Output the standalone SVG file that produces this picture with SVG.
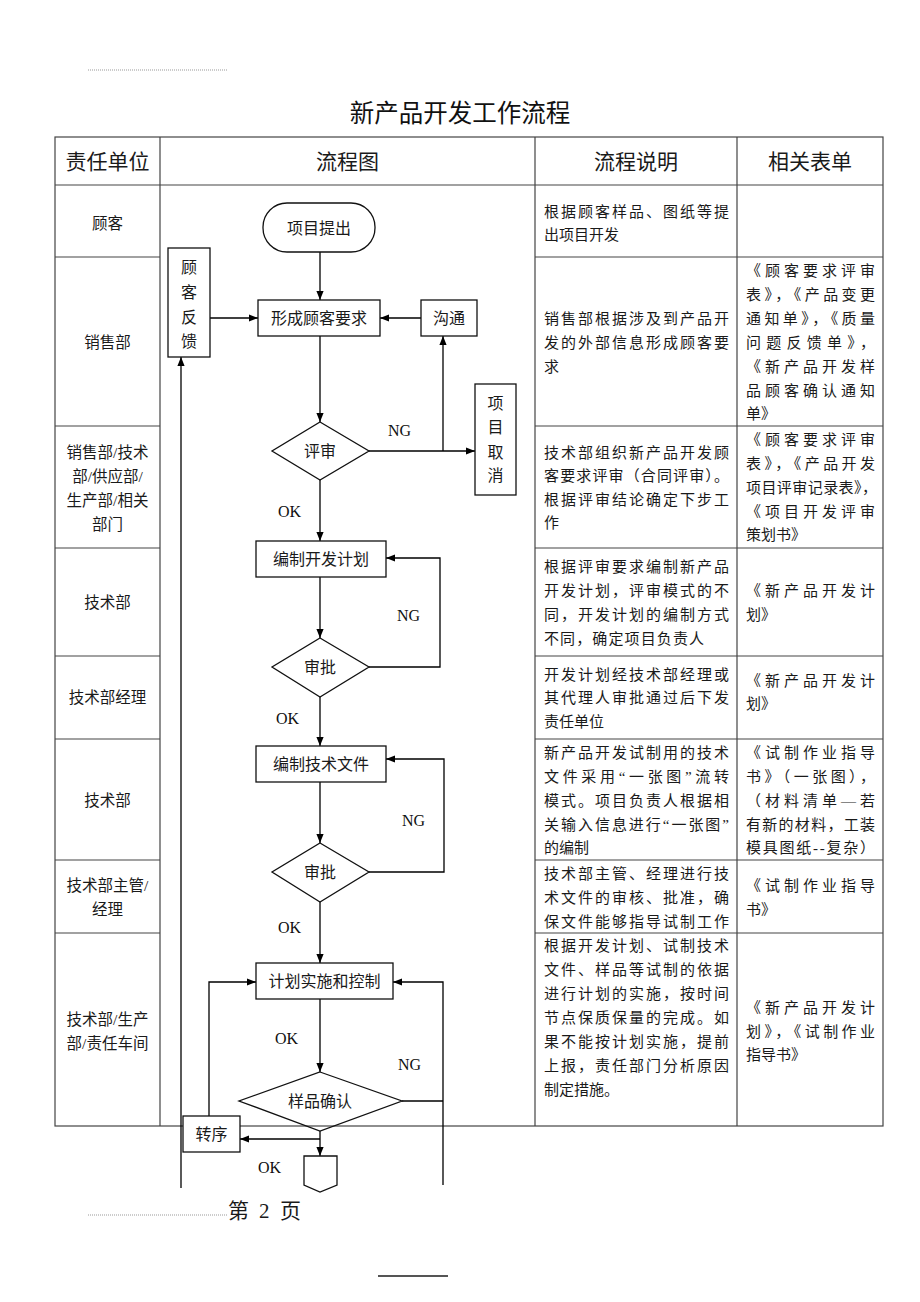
<svg xmlns="http://www.w3.org/2000/svg" width="920" height="1302" viewBox="0 0 920 1302">
<style>
.cj{font-family:"Liberation Serif","Noto Sans CJK SC",serif;fill:#1a1a1a}
.t15{font-size:15px}
.t155{font-size:15.5px;text-anchor:middle}
.t16{font-size:16px;text-anchor:middle}
.hd{font-size:21px;text-anchor:middle}
.title{font-family:"Noto Sans CJK SC",sans-serif;font-size:24.5px;text-anchor:middle;fill:#111}
.lat{font-family:"Liberation Serif",serif;font-size:16px;fill:#111}
.grid{stroke:#444;stroke-width:1.2;fill:none}
.box{fill:#fff;stroke:#111;stroke-width:1.3}
.dia{fill:none;stroke:#111;stroke-width:1.3}
.ln{fill:none;stroke:#000;stroke-width:1.3}
.arr{fill:none;stroke:#000;stroke-width:1.3;marker-end:url(#ah)}
</style>
<defs>
<marker id="ah" viewBox="0 0 10 10" refX="10" refY="5" markerWidth="10" markerHeight="9" markerUnits="userSpaceOnUse" orient="auto">
<path d="M0,1 L10,5 L0,9 z" fill="#000"/>
</marker>
</defs>
<rect width="920" height="1302" fill="#fff"/>

<!-- page decorations -->
<g id="page">
<line x1="88" y1="70" x2="227" y2="70" stroke="#999" stroke-width="1" stroke-dasharray="1,1"/>
<line x1="88" y1="1215" x2="227" y2="1215" stroke="#999" stroke-width="1" stroke-dasharray="1,1"/>
<line x1="378" y1="1276" x2="448" y2="1276" stroke="#555" stroke-width="2"/>
<text class="cj" font-size="21" x="228" y="1218">第<tspan x="259">2</tspan><tspan x="280">页</tspan></text>
<text class="title" x="460" y="122">新产品开发工作流程</text>
</g>

<!-- table grid -->
<g id="table">
<rect class="grid" x="55" y="137" width="828" height="989"/>
<line class="grid" x1="160" y1="137" x2="160" y2="1126"/>
<line class="grid" x1="535" y1="137" x2="535" y2="1126"/>
<line class="grid" x1="737" y1="137" x2="737" y2="1126"/>
<line class="grid" x1="55" y1="185" x2="883" y2="185"/>
<path class="grid" d="M55,257H160M55,426H160M55,548H160M55,656H160M55,739H160M55,860H160M55,933H160"/>
<path class="grid" d="M535,257H883M535,426H883M535,548H883M535,656H883M535,739H883M535,860H883M535,933H883"/>
<text class="cj hd" x="107.5" y="168.5">责任单位</text>
<text class="cj hd" x="347.5" y="168.5">流程图</text>
<text class="cj hd" x="636" y="168.5">流程说明</text>
<text class="cj hd" x="810" y="168.5">相关表单</text>
</g>

<!-- column 1: responsible units -->
<g id="units" class="cj t155">
<text x="107.5" y="229">顾客</text>
<text x="107.5" y="348">销售部</text>
<text x="107.5" y="458">销售部/技术</text>
<text x="107.5" y="482">部/供应部/</text>
<text x="107.5" y="506">生产部/相关</text>
<text x="107.5" y="530">部门</text>
<text x="107.5" y="608">技术部</text>
<text x="107.5" y="703">技术部经理</text>
<text x="107.5" y="806">技术部</text>
<text x="107.5" y="891">技术部主管/</text>
<text x="107.5" y="915">经理</text>
<text x="107.5" y="1025">技术部/生产</text>
<text x="107.5" y="1049">部/责任车间</text>
</g>

<!-- column 3: description -->
<g id="desc" class="cj t15">
<text x="544" y="216.5" textLength="185" lengthAdjust="spacing">根据顾客样品、图纸等提</text>
<text x="544" y="239.5">出项目开发</text>

<text x="544" y="323.5" textLength="185" lengthAdjust="spacing">销售部根据涉及到产品开</text>
<text x="544" y="347.5" textLength="185" lengthAdjust="spacing">发的外部信息形成顾客要</text>
<text x="544" y="371.5">求</text>

<text x="544" y="457.5" textLength="185" lengthAdjust="spacing">技术部组织新产品开发顾</text>
<text x="544" y="480.5" textLength="185" lengthAdjust="spacing">客要求评审（合同评审）。</text>
<text x="544" y="504.5" textLength="185" lengthAdjust="spacing">根据评审结论确定下步工</text>
<text x="544" y="527.5">作</text>

<text x="544" y="571.5" textLength="185" lengthAdjust="spacing">根据评审要求编制新产品</text>
<text x="544" y="595.5" textLength="185" lengthAdjust="spacing">开发计划，评审模式的不</text>
<text x="544" y="619.5" textLength="185" lengthAdjust="spacing">同，开发计划的编制方式</text>
<text x="544" y="643.5" textLength="160" lengthAdjust="spacing">不同，确定项目负责人</text>

<text x="544" y="680" textLength="185" lengthAdjust="spacing">开发计划经技术部经理或</text>
<text x="544" y="703" textLength="185" lengthAdjust="spacing">其代理人审批通过后下发</text>
<text x="544" y="726.5">责任单位</text>

<text x="544" y="757.5" textLength="185" lengthAdjust="spacing">新产品开发试制用的技术</text>
<text x="544" y="781.5" textLength="185" lengthAdjust="spacing">文件采用“一张图”流转</text>
<text x="544" y="805.5" textLength="185" lengthAdjust="spacing">模式。项目负责人根据相</text>
<text x="544" y="829.5" textLength="185" lengthAdjust="spacing">关输入信息进行“一张图”</text>
<text x="544" y="852.5">的编制</text>

<text x="544" y="878.5" textLength="185" lengthAdjust="spacing">技术部主管、经理进行技</text>
<text x="544" y="902.5" textLength="185" lengthAdjust="spacing">术文件的审核、批准，确</text>
<text x="544" y="926.5" textLength="185" lengthAdjust="spacing">保文件能够指导试制工作</text>

<text x="544" y="950.5" textLength="185" lengthAdjust="spacing">根据开发计划、试制技术</text>
<text x="544" y="974.5" textLength="185" lengthAdjust="spacing">文件、样品等试制的依据</text>
<text x="544" y="998.5" textLength="185" lengthAdjust="spacing">进行计划的实施，按时间</text>
<text x="544" y="1022.5" textLength="185" lengthAdjust="spacing">节点保质保量的完成。如</text>
<text x="544" y="1046.5" textLength="185" lengthAdjust="spacing">果不能按计划实施，提前</text>
<text x="544" y="1070.5" textLength="185" lengthAdjust="spacing">上报，责任部门分析原因</text>
<text x="544" y="1094.5">制定措施。</text>
</g>

<!-- column 4: related forms -->
<g id="forms" class="cj t15">
<text x="746" y="275.5" textLength="129" lengthAdjust="spacing">《顾客要求评审</text>
<text x="746" y="299.5" textLength="129" lengthAdjust="spacing">表》，《产品变更</text>
<text x="746" y="323.5" textLength="129" lengthAdjust="spacing">通知单》，《质量</text>
<text x="746" y="347.5" textLength="129" lengthAdjust="spacing">问题反馈单》，</text>
<text x="746" y="371.5" textLength="129" lengthAdjust="spacing">《新产品开发样</text>
<text x="746" y="395.5" textLength="129" lengthAdjust="spacing">品顾客确认通知</text>
<text x="746" y="419">单》</text>

<text x="746" y="445" textLength="129" lengthAdjust="spacing">《顾客要求评审</text>
<text x="746" y="469" textLength="129" lengthAdjust="spacing">表》，《产品开发</text>
<text x="746" y="493" textLength="131" lengthAdjust="spacing">项目评审记录表》，</text>
<text x="746" y="517" textLength="129" lengthAdjust="spacing">《项目开发评审</text>
<text x="746" y="540">策划书》</text>

<text x="746" y="595.5" textLength="129" lengthAdjust="spacing">《新产品开发计</text>
<text x="746" y="619.5">划》</text>

<text x="746" y="686" textLength="129" lengthAdjust="spacing">《新产品开发计</text>
<text x="746" y="709">划》</text>

<text x="746" y="757.5" textLength="129" lengthAdjust="spacing">《试制作业指导</text>
<text x="746" y="781.5" textLength="129" lengthAdjust="spacing">书》（一张图），</text>
<text x="746" y="805.5" textLength="129" lengthAdjust="spacing">（材料清单—若</text>
<text x="746" y="829.5" textLength="129" lengthAdjust="spacing">有新的材料，工装</text>
<text x="746" y="852.5" textLength="129" lengthAdjust="spacing">模具图纸--复杂）</text>

<text x="746" y="890.5" textLength="129" lengthAdjust="spacing">《试制作业指导</text>
<text x="746" y="914.5">书》</text>

<text x="746" y="1012.5" textLength="129" lengthAdjust="spacing">《新产品开发计</text>
<text x="746" y="1036.5" textLength="129" lengthAdjust="spacing">划》，《试制作业</text>
<text x="746" y="1059.5">指导书》</text>
</g>

<!-- connectors -->
<g id="connectors">
<line class="arr" x1="320" y1="252" x2="320" y2="300"/>
<line class="arr" x1="210" y1="318" x2="258" y2="318"/>
<line class="arr" x1="421" y1="318" x2="380" y2="318"/>
<line class="arr" x1="320" y1="336" x2="320" y2="422"/>
<line class="arr" x1="369" y1="451" x2="475" y2="451"/>
<line class="arr" x1="443" y1="451" x2="443" y2="336"/>
<line class="arr" x1="320" y1="480" x2="320" y2="541"/>
<line class="arr" x1="320" y1="577" x2="320" y2="638"/>
<path class="arr" d="M369,667 H440 V558 H386"/>
<line class="arr" x1="320" y1="697" x2="320" y2="746"/>
<line class="arr" x1="320" y1="782" x2="320" y2="843"/>
<path class="arr" d="M369,872 H444 V759 H386"/>
<line class="arr" x1="320" y1="902" x2="320" y2="963"/>
<line class="arr" x1="320" y1="999" x2="320" y2="1072"/>
<line class="ln" x1="402" y1="1101" x2="443" y2="1101"/>
<path class="arr" d="M443,1185 V982 H393"/>
<line class="arr" x1="320" y1="1131" x2="320" y2="1156"/>
<line class="arr" x1="320" y1="1139" x2="240" y2="1139"/>
<path class="arr" d="M209,1116 V982 H256"/>
<line class="arr" x1="181" y1="1188" x2="181" y2="357"/>
<text class="lat" x="388" y="436">NG</text>
<text class="lat" x="278" y="517">OK</text>
<text class="lat" x="397" y="621">NG</text>
<text class="lat" x="276" y="724">OK</text>
<text class="lat" x="402" y="826">NG</text>
<text class="lat" x="278" y="933">OK</text>
<text class="lat" x="275" y="1044">OK</text>
<text class="lat" x="398" y="1070">NG</text>
<text class="lat" x="258" y="1173">OK</text>
</g>

<!-- nodes -->
<g id="n_start">
<rect class="box" x="263" y="203" width="112" height="49" rx="24" ry="24"/>
<text class="cj t16" x="319" y="233.5">项目提出</text>
</g>
<g id="n_feedback">
<rect class="box" x="168" y="248" width="42" height="109"/>
<text class="cj t16" x="189" y="273">顾</text>
<text class="cj t16" x="189" y="298">客</text>
<text class="cj t16" x="189" y="323">反</text>
<text class="cj t16" x="189" y="347">馈</text>
</g>
<g id="n_req">
<rect class="box" x="258" y="300" width="122" height="36"/>
<text class="cj t16" x="319" y="324">形成顾客要求</text>
</g>
<g id="n_comm">
<rect class="box" x="421" y="300" width="56" height="36"/>
<text class="cj t16" x="449" y="324">沟通</text>
</g>
<g id="n_review">
<polygon class="dia" points="320,422 369,451 320,480 272,451"/>
<text class="cj t16" x="320" y="457">评审</text>
</g>
<g id="n_cancel">
<rect class="box" x="475" y="384" width="41" height="111"/>
<text class="cj t16" x="495.5" y="409">项</text>
<text class="cj t16" x="495.5" y="433">目</text>
<text class="cj t16" x="495.5" y="458">取</text>
<text class="cj t16" x="495.5" y="481">消</text>
</g>
<g id="n_plan">
<rect class="box" x="256" y="541" width="130" height="36"/>
<text class="cj t16" x="321" y="565">编制开发计划</text>
</g>
<g id="n_approve1">
<polygon class="dia" points="320,638 369,667 320,697 272,667"/>
<text class="cj t16" x="320" y="673">审批</text>
</g>
<g id="n_techdoc">
<rect class="box" x="256" y="746" width="130" height="36"/>
<text class="cj t16" x="321" y="770">编制技术文件</text>
</g>
<g id="n_approve2">
<polygon class="dia" points="320,843 369,872 320,902 272,872"/>
<text class="cj t16" x="320" y="878">审批</text>
</g>
<g id="n_exec">
<rect class="box" x="256" y="963" width="137" height="36"/>
<text class="cj t16" x="324.5" y="987">计划实施和控制</text>
</g>
<g id="n_sample">
<polygon class="dia" points="320,1072 402,1101 320,1131 239,1101"/>
<text class="cj t16" x="320" y="1107">样品确认</text>
</g>
<g id="n_transfer">
<rect class="box" x="183" y="1116" width="57" height="36"/>
<text class="cj t16" x="211.5" y="1140">转序</text>
</g>
<g id="n_offpage">
<path class="box" d="M304,1156 H337 V1185 L320,1192 L304,1185 Z"/>
</g>
</svg>
